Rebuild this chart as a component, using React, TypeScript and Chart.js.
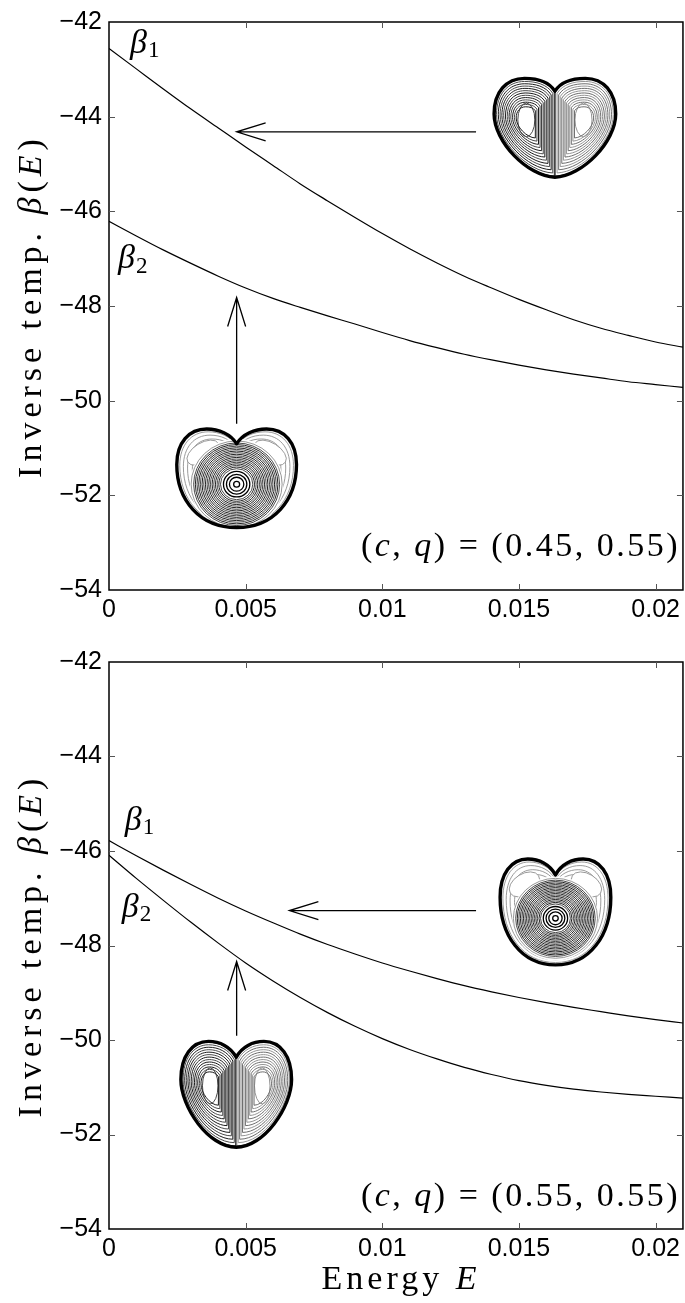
import React, { useEffect, useRef } from 'react';
import { Chart, registerables } from 'chart.js';

Chart.register(...registerables);

// ---------------- data ----------------
const energy = [
  0, 0.001, 0.002, 0.003, 0.004, 0.005, 0.006, 0.007, 0.008, 0.009, 0.01,
  0.011, 0.012, 0.013, 0.014, 0.015, 0.016, 0.017, 0.018, 0.019, 0.02, 0.021,
];
// (c,q) = (0.45, 0.55)
const beta1Upper = [
  -42.56, -42.99, -43.42, -43.84, -44.24, -44.64, -45.03, -45.42, -45.78, -46.13, -46.47,
  -46.79, -47.09, -47.37, -47.62, -47.86, -48.08, -48.29, -48.47, -48.62, -48.76, -48.87,
];
const beta2Upper = [
  -46.21, -46.52, -46.82, -47.1, -47.37, -47.62, -47.84, -48.03, -48.21, -48.38, -48.56,
  -48.73, -48.88, -49.02, -49.14, -49.25, -49.35, -49.44, -49.52, -49.6, -49.66, -49.72,
];
// (c,q) = (0.55, 0.55)
const beta1Lower = [
  -45.78, -46.1, -46.41, -46.71, -47.0, -47.27, -47.52, -47.76, -47.98, -48.18, -48.37,
  -48.54, -48.7, -48.85, -48.98, -49.1, -49.21, -49.31, -49.4, -49.49, -49.57, -49.64,
];
const beta2Lower = [
  -46.09, -46.58, -47.05, -47.51, -47.95, -48.37, -48.75, -49.1, -49.42, -49.71, -49.97,
  -50.2, -50.4, -50.58, -50.73, -50.86, -50.96, -51.04, -51.1, -51.15, -51.19, -51.23,
];

const xTickValues = [0, 0.005, 0.01, 0.015, 0.02];
const xTickLabels = ['0', '0.005', '0.01', '0.015', '0.02'];
const yTickValues = [-54, -52, -50, -48, -46, -44, -42];
const yTickLabels = ['\u221254', '\u221252', '\u221250', '\u221248', '\u221246', '\u221244', '\u221242'];
const paramLabels = ['(0.45, 0.55)', '(0.55, 0.55)'];
const xRange = [0, 0.021];
const yRange = [-54, -42];

// ---------------- annotation placement (data units) ----------------
type Heart = { kind: 'two' | 'one'; l: number; r: number; t: number; b: number; cusp: number; narrow?: boolean };
type Arrow = { x1: number; y1: number; x2: number; y2: number };
type Note = {
  hearts: Heart[];
  arrows: Arrow[];
  b1: [number, number];
  b2: [number, number];
  paramY: number;
};

const upperNotes: Note = {
  hearts: [
    { kind: 'two', l: 0.01409, r: 0.01854, t: -43.19, b: -45.28, cusp: 0.13 },
    { kind: 'one', l: 0.00248, r: 0.00686, t: -50.6, b: -52.68, cusp: 0.15 },
  ],
  arrows: [
    { x1: 0.01343, y1: -44.32, x2: 0.00467, y2: -44.32 },
    { x1: 0.00467, y1: -50.49, x2: 0.00467, y2: -47.82 },
  ],
  b1: [0.00077, -42.46],
  b2: [0.00033, -47.01],
  paramY: -53.1,
};
const lowerNotes: Note = {
  hearts: [
    { kind: 'one', l: 0.01431, r: 0.01836, t: -46.17, b: -48.41, cusp: 0.15 },
    { kind: 'two', l: 0.00263, r: 0.00668, t: -50.03, b: -52.27, cusp: 0.15, narrow: true },
  ],
  arrows: [
    { x1: 0.01343, y1: -47.26, x2: 0.0066, y2: -47.26 },
    { x1: 0.00467, y1: -49.91, x2: 0.00467, y2: -48.34 },
  ],
  b1: [0.00058, -45.36],
  b2: [0.00047, -47.2],
  paramY: -53.33,
};

// ---------------- drawing helpers ----------------
const SERIF = '"Liberation Serif", "DejaVu Serif", serif';
const SANS = '"Liberation Sans", Arial, sans-serif';

type Part = { t: string; it?: boolean; sz?: number; dy?: number };

function setFont(ctx: CanvasRenderingContext2D, p: Part, base: number) {
  const size = base * (p.sz ?? 1);
  ctx.font = `${p.it ? 'italic ' : ''}${size}px ${SERIF}`;
}

function drawRich(
  ctx: CanvasRenderingContext2D,
  parts: Part[],
  x: number,
  y: number,
  align: 'left' | 'center' | 'right',
  base: number,
  ls: number,
) {
  ctx.save();
  (ctx as any).letterSpacing = `${ls}px`;
  ctx.textBaseline = 'middle';
  ctx.textAlign = 'left';
  let total = 0;
  const widths: number[] = [];
  for (const p of parts) {
    setFont(ctx, p, base);
    const w = ctx.measureText(p.t).width;
    widths.push(w);
    total += w;
  }
  let cx = align === 'left' ? x : align === 'center' ? x - total / 2 : x - total;
  ctx.fillStyle = '#000';
  parts.forEach((p, i) => {
    setFont(ctx, p, base);
    ctx.fillText(p.t, cx, y + (p.dy ?? 0) * base);
    cx += widths[i];
  });
  ctx.restore();
}

type Seg = number[];
function heartSegs(c: number, round: boolean, narrow = false): Seg[] {
  return [
    [0.1, c - 0.1, 0.3, 0, 0.5, 0],
    [0.8, 0, 1, 0.14, 1, 0.36],
    round ? [1, 0.72, 0.62, 1, 0, 1] : narrow ? [1, 0.62, 0.5, 1, 0, 1] : [1, 0.64, 0.45, 0.99, 0, 1],
  ];
}

type Map2 = (u: number, v: number) => [number, number];

function heartPath(ctx: CanvasRenderingContext2D, T: Map2, segs: Seg[], c: number, k = 1, uc = 0, vc = 0.5) {
  const m: Map2 = (u, v) => T(uc + k * (u - uc), vc + k * (v - vc));
  const s = segs;
  ctx.beginPath();
  ctx.moveTo(...m(0, c));
  for (const g of s) ctx.bezierCurveTo(...m(g[0], g[1]), ...m(g[2], g[3]), ...m(g[4], g[5]));
  for (let j = 2; j >= 0; j--) {
    const g = s[j];
    const end = j > 0 ? [s[j - 1][4], s[j - 1][5]] : [0, c];
    ctx.bezierCurveTo(...m(-g[2], g[3]), ...m(-g[0], g[1]), ...m(-end[0], end[1]));
  }
  ctx.closePath();
}

function halfPath(ctx: CanvasRenderingContext2D, T: Map2, segs: Seg[], c: number, side: number, k: number, uc: number, vc: number) {
  const m: Map2 = (u, v) => T(uc + k * (u - uc), vc + k * (v - vc));
  ctx.beginPath();
  ctx.moveTo(...m(0, c));
  for (const g of segs) ctx.bezierCurveTo(...m(side * g[0], g[1]), ...m(side * g[2], g[3]), ...m(side * g[4], g[5]));
  ctx.closePath();
}

function drawHeart(ctx: CanvasRenderingContext2D, box: { L: number; R: number; Tp: number; B: number }, h: Heart) {
  const cx = (box.L + box.R) / 2;
  const hw = (box.R - box.L) / 2;
  const hh = box.B - box.Tp;
  const T: Map2 = (u, v) => [cx + u * hw, box.Tp + v * hh];
  const segs = heartSegs(h.cusp, h.kind === 'one', !!h.narrow);
  ctx.save();
  heartPath(ctx, T, segs, h.cusp);
  ctx.fillStyle = '#fff';
  ctx.fill();
  ctx.save();
  heartPath(ctx, T, segs, h.cusp);
  ctx.clip();
  if (h.kind === 'two') {
    const levels = 14;
    for (const side of [-1, 1]) {
      const uc = 0.47 * side;
      const vc = 0.42;
      for (let i = 0; i < levels; i++) {
        const k = 0.26 + (i * 0.72) / (levels - 1);
        if (i === 0) {
          ctx.beginPath();
          const [px, py] = T(uc, vc);
          ctx.ellipse(px, py, hw * 0.14, hh * 0.17, 0, 0, Math.PI * 2);
        } else {
          halfPath(ctx, T, segs, h.cusp, side, k, uc, vc);
        }
        ctx.strokeStyle = side < 0 ? (i % 2 ? '#1c1c1c' : '#4a4a4a') : i % 2 ? '#6e6e6e' : '#959595';
        ctx.lineWidth = 1;
        ctx.stroke();
      }
    }
  } else {
    const vc = 0.56;
    ctx.strokeStyle = '#8e8e8e';
    ctx.lineWidth = 0.9;
    for (const k of [0.66, 0.74, 0.82, 0.89, 0.95]) {
      heartPath(ctx, T, segs, h.cusp, k, 0, vc);
      ctx.stroke();
    }
    for (const side of [-1, 1]) {
      const [ex, ey] = T(0.56 * side, 0.24);
      ctx.beginPath();
      ctx.ellipse(ex, ey, hw * 0.3, hh * 0.1, side * 0.55, 0, Math.PI * 2);
      ctx.fillStyle = '#fff';
      ctx.fill();
      ctx.strokeStyle = '#8e8e8e';
      ctx.stroke();
    }
    const [ccx, ccy] = T(0, vc);
    ctx.beginPath();
    ctx.ellipse(ccx, ccy, hw * 0.78, hw * 0.76, 0, 0, Math.PI * 2);
    ctx.fillStyle = '#fff';
    ctx.fill();
    const inner = [0.05, 0.12, 0.17, 0.22];
    inner.forEach((r) => {
      ctx.beginPath();
      ctx.ellipse(ccx, ccy, hw * r, hw * r * 0.97, 0, 0, Math.PI * 2);
      ctx.strokeStyle = '#000';
      ctx.lineWidth = 1.3;
      ctx.stroke();
    });
    for (let i = 0; i < 17; i++) {
      const r = 0.27 + i * 0.028;
      ctx.beginPath();
      ctx.ellipse(ccx, ccy, hw * r, hw * r * 0.96, 0, 0, Math.PI * 2);
      ctx.strokeStyle = i % 2 ? '#222' : '#4a4a4a';
      ctx.lineWidth = 1;
      ctx.stroke();
    }
    for (const r of [0.76]) {
      ctx.beginPath();
      ctx.ellipse(ccx, ccy, hw * r, hw * r * 0.95, 0, 0, Math.PI * 2);
      ctx.strokeStyle = '#8a8a8a';
      ctx.lineWidth = 0.9;
      ctx.stroke();
    }
  }
  ctx.restore();
  heartPath(ctx, T, segs, h.cusp);
  ctx.strokeStyle = '#000';
  ctx.lineWidth = 3.4;
  ctx.lineJoin = 'round';
  ctx.stroke();
  ctx.restore();
}

function drawArrow(ctx: CanvasRenderingContext2D, x1: number, y1: number, x2: number, y2: number) {
  const a = Math.atan2(y2 - y1, x2 - x1);
  const len = 29;
  const half = 9;
  const dx = Math.cos(a);
  const dy = Math.sin(a);
  ctx.save();
  ctx.strokeStyle = '#000';
  ctx.lineWidth = 1.3;
  ctx.beginPath();
  ctx.moveTo(x1, y1);
  ctx.lineTo(x2, y2);
  ctx.moveTo(x2 - len * dx - half * dy, y2 - len * dy + half * dx);
  ctx.lineTo(x2, y2);
  ctx.lineTo(x2 - len * dx + half * dy, y2 - len * dy - half * dx);
  ctx.stroke();
  ctx.restore();
}

function makeDecor(notes: Note, param: string, showXTitle: boolean) {
  return {
    id: 'decor',
    afterDraw(chart: any) {
      const ctx: CanvasRenderingContext2D = chart.ctx;
      const xs = chart.scales.x;
      const ys = chart.scales.y;
      const ca = chart.chartArea;
      const px = (v: number) => xs.getPixelForValue(v);
      const py = (v: number) => ys.getPixelForValue(v);

      for (const h of notes.hearts) {
        drawHeart(ctx, { L: px(h.l), R: px(h.r), Tp: py(h.t), B: py(h.b) }, h);
      }
      for (const a of notes.arrows) drawArrow(ctx, px(a.x1), py(a.y1), px(a.x2), py(a.y2));

      drawRich(ctx, [{ t: '\u03b2', it: true }, { t: '1', sz: 0.68, dy: 0.22 }], px(notes.b1[0]), py(notes.b1[1]), 'left', 34, 1);
      drawRich(ctx, [{ t: '\u03b2', it: true }, { t: '2', sz: 0.68, dy: 0.22 }], px(notes.b2[0]), py(notes.b2[1]), 'left', 34, 1);

      drawRich(
        ctx,
        [{ t: '(' }, { t: 'c', it: true }, { t: ', ' }, { t: 'q', it: true }, { t: ') = ' + param }],
        ca.right - 3,
        py(notes.paramY),
        'right',
        34,
        2.5,
      );

      // frame
      ctx.save();
      ctx.strokeStyle = '#000';
      ctx.lineWidth = 1.5;
      ctx.strokeRect(ca.left, ca.top, ca.right - ca.left, ca.bottom - ca.top);
      ctx.lineWidth = 1;
      ctx.strokeStyle = '#555';
      ctx.beginPath();
      const tl = 6;
      for (const v of xTickValues) {
        const x = Math.round(px(v)) + 0.5;
        if (Math.abs(x - ca.left) < 2 || Math.abs(x - ca.right) < 2) continue;
        ctx.moveTo(x, ca.bottom);
        ctx.lineTo(x, ca.bottom - tl);
        ctx.moveTo(x, ca.top);
        ctx.lineTo(x, ca.top + tl);
      }
      for (const v of yTickValues) {
        const y = Math.round(py(v)) + 0.5;
        if (Math.abs(y - ca.top) < 2 || Math.abs(y - ca.bottom) < 2) continue;
        ctx.moveTo(ca.left, y);
        ctx.lineTo(ca.left + tl, y);
        ctx.moveTo(ca.right, y);
        ctx.lineTo(ca.right - tl, y);
      }
      ctx.stroke();
      ctx.restore();

      // y title (rotated)
      ctx.save();
      ctx.translate(32, (ca.top + ca.bottom) / 2);
      ctx.rotate(-Math.PI / 2);
      drawRich(
        ctx,
        [{ t: 'Inverse temp. ' }, { t: '\u03b2', it: true }, { t: '(' }, { t: 'E', it: true }, { t: ')' }],
        0,
        0,
        'center',
        34,
        5,
      );
      ctx.restore();

      if (showXTitle) {
        drawRich(ctx, [{ t: 'Energy ' }, { t: 'E', it: true }], (ca.left + ca.right) / 2 + 5, ca.bottom + 51, 'center', 34, 4);
      }
    },
  };
}

type PanelProps = {
  height: number;
  padTop: number;
  xAxisH: number;
  b1: number[];
  b2: number[];
  notes: Note;
  param: string;
  showXTitle: boolean;
};

function Panel(props: PanelProps) {
  const ref = useRef<HTMLCanvasElement | null>(null);
  useEffect(() => {
    if (!ref.current) return;
    const lineDs = (vals: number[]) => ({
      data: energy.map((e, i) => ({ x: e, y: vals[i] })),
      borderColor: '#000',
      borderWidth: 1.2,
      pointRadius: 0,
      cubicInterpolationMode: 'monotone' as const,
      fill: false,
    });
    const chart = new Chart(ref.current, {
      type: 'line',
      data: { datasets: [lineDs(props.b1), lineDs(props.b2)] },
      options: {
        animation: false,
        responsive: false,
        maintainAspectRatio: false,
        devicePixelRatio: 1,
        layout: { padding: { top: props.padTop, right: 1, left: 0, bottom: 0 } },
        plugins: { legend: { display: false }, tooltip: { enabled: false }, title: { display: false } },
        scales: {
          x: {
            type: 'linear',
            min: xRange[0],
            max: xRange[1],
            afterBuildTicks: (s: any) => {
              s.ticks = xTickValues.map((v) => ({ value: v }));
            },
            afterFit: (s: any) => {
              s.height = props.xAxisH;
            },
            ticks: {
              callback: (v: any) => xTickLabels[xTickValues.indexOf(v)] ?? '',
              font: { family: SANS, size: 25 },
              color: '#000',
              padding: 5,
              maxRotation: 0,
              autoSkip: false,
            },
            grid: { display: false, drawTicks: false },
            border: { display: false },
          },
          y: {
            type: 'linear',
            min: yRange[0],
            max: yRange[1],
            afterBuildTicks: (s: any) => {
              s.ticks = yTickValues.map((v) => ({ value: v }));
            },
            afterFit: (s: any) => {
              s.width = 109;
            },
            ticks: {
              callback: (v: any) => yTickLabels[yTickValues.indexOf(v)] ?? '',
              font: { family: SANS, size: 25 },
              color: '#000',
              padding: 7,
              autoSkip: false,
            },
            grid: { display: false, drawTicks: false },
            border: { display: false },
          },
        },
      },
      plugins: [makeDecor(props.notes, props.param, props.showXTitle)],
    });
    return () => chart.destroy();
  }, []);
  return <canvas ref={ref} width={685} height={props.height} style={{ display: 'block', width: 685, height: props.height }} />;
}

export default function App() {
  return (
    <div style={{ position: 'absolute', left: 0, top: 0, width: 685, height: 1303, background: '#fff' }}>
      <Panel height={640} padTop={15} xAxisH={50} b1={beta1Upper} b2={beta2Upper} notes={upperNotes} param={paramLabels[0]} showXTitle={false} />
      <Panel height={663} padTop={14} xAxisH={74} b1={beta1Lower} b2={beta2Lower} notes={lowerNotes} param={paramLabels[1]} showXTitle={true} />
    </div>
  );
}
